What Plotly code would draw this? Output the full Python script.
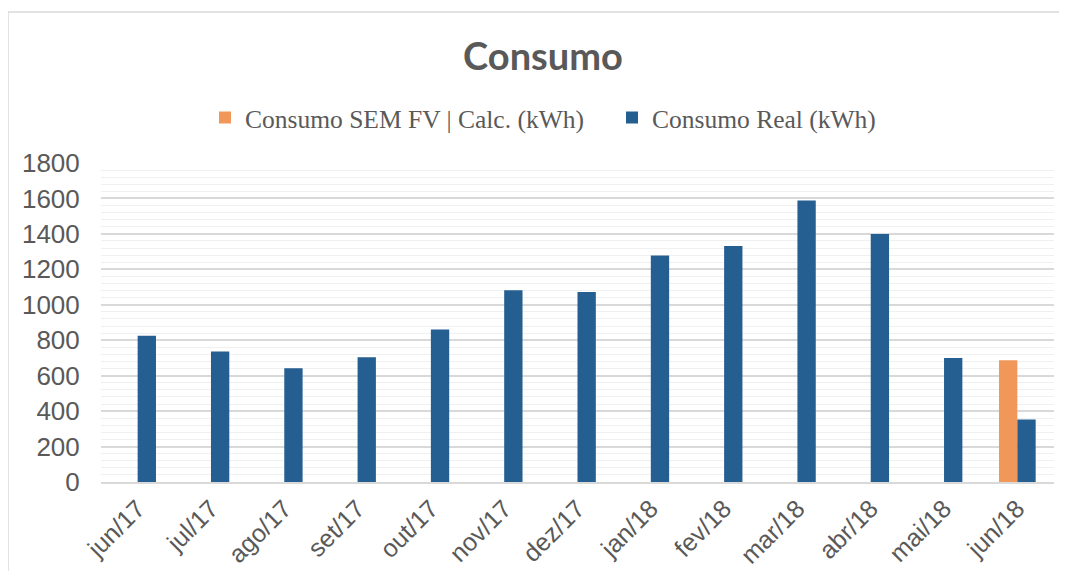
import plotly.graph_objects as go

categories = ["jun/17", "jul/17", "ago/17", "set/17", "out/17", "nov/17", "dez/17",
              "jan/18", "fev/18", "mar/18", "abr/18", "mai/18", "jun/18"]
consumo_sem_fv = [None, None, None, None, None, None, None, None, None, None, None, None, 687]
consumo_real = [825, 736, 642, 704, 860, 1082, 1072, 1278, 1332, 1589, 1400, 700, 352]
y_ticks = [0, 200, 400, 600, 800, 1000, 1200, 1400, 1600, 1800]

ORANGE = "#F1975A"
BLUE = "#255E91"
GREY_TXT = "#595959"

fig = go.Figure()
fig.add_trace(go.Bar(x=categories, y=consumo_sem_fv, name="Consumo SEM FV | Calc. (kWh)",
                     marker=dict(color=ORANGE, line=dict(width=0))))
fig.add_trace(go.Bar(x=categories, y=consumo_real, name="Consumo Real (kWh)",
                     marker=dict(color=BLUE, line=dict(width=0))))

# page body has an 8px margin: work in reference pixels and shift by OFF
OFF = 8
W, H = 1067 - OFF, 579 - 2 * OFF
plot_left, plot_right, plot_top, plot_bottom = 101, 1054, 163, 482
L = plot_left - OFF
R = W - (plot_right - OFF)
T = plot_top - OFF
B = H - (plot_bottom - OFF)
pw = W - L - R
ph = H - T - B

def px2paper_x(px):
    return (px - plot_left) / pw

def px2paper_y(py):
    return (plot_bottom - py) / ph

fig.update_layout(
    width=W, height=H,
    margin=dict(l=L, r=R, t=T, b=B, autoexpand=False),
    paper_bgcolor="white", plot_bgcolor="white",
    barmode="group", bargap=0.5, bargroupgap=0,
    title=dict(text="<b>Consumo</b>", x=(543 - OFF) / W, xref="container", xanchor="center",
               y=1 - (57 - OFF) / H, yref="container", yanchor="middle",
               font=dict(family="Lato", size=38, color=GREY_TXT)),
    legend=dict(orientation="h", x=px2paper_x(205), xanchor="left",
                y=px2paper_y(118), yanchor="middle",
                font=dict(family="Liberation Serif", size=25.5, color=GREY_TXT),
                entrywidth=362, entrywidthmode="pixels",
                itemsizing="constant", traceorder="normal", bgcolor="rgba(0,0,0,0)"),
    showlegend=True,
)
fig.update_xaxes(showgrid=False, showline=True, linecolor="#D9D9D9", linewidth=2,
                 tickangle=-45, ticks="", ticklen=0,
                 tickfont=dict(family="Liberation Sans", size=25, color=GREY_TXT))
fig.update_yaxes(range=[0, 1800], tickvals=y_ticks, showgrid=True, gridcolor="#D9D9D9",
                 gridwidth=1.5, zeroline=False, showline=False,
                 ticks="outside", ticklen=15, tickcolor="rgba(0,0,0,0)",
                 minor=dict(dtick=40, showgrid=True, gridcolor="#F0F0F0", gridwidth=1),
                 tickfont=dict(family="Liberation Sans", size=26, color=GREY_TXT))

# chart area border
fig.add_shape(type="rect", xref="paper", yref="paper",
              x0=px2paper_x(8), x1=px2paper_x(1090), y0=px2paper_y(620), y1=px2paper_y(12),
              line=dict(color="#D9D9D9", width=1.5), fillcolor="rgba(0,0,0,0)", layer="below")

fig.write_html("out.html")
